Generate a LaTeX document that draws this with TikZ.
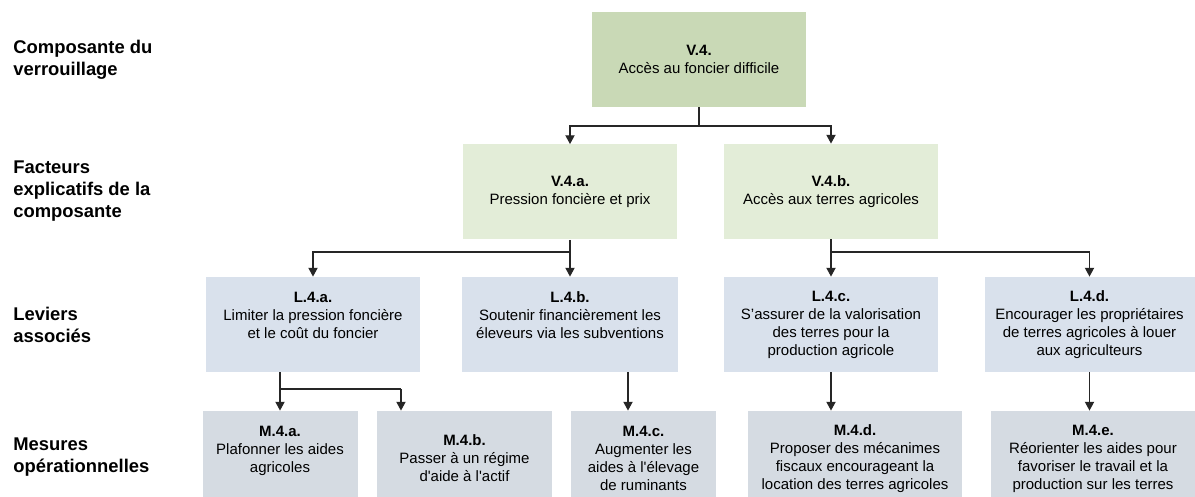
\documentclass[tikz,border=0pt]{standalone}
\usepackage{fontspec}
\setmainfont{Liberation Sans}
\usetikzlibrary{arrows.meta}

\definecolor{vcol}{HTML}{C9D9B6}
\definecolor{fcol}{HTML}{E3EDD8}
\definecolor{lcol}{HTML}{D9E1EC}
\definecolor{mcol}{HTML}{D5DBE2}

\tikzset{
  box/.style={minimum height=47.5pt, inner sep=2pt, align=center,
    font=\fontsize{7.5pt}{9pt}\selectfont},
  vbox/.style={box, fill=vcol, minimum width=107pt},
  fbox/.style={box, fill=fcol, minimum width=107pt},
  lbox/.style={box, fill=lcol, minimum width=107pt},
  mbox/.style={box, fill=mcol},
  rowlab/.style={anchor=west, align=left, inner sep=0pt,
    font=\fontsize{9.2pt}{11pt}\selectfont\bfseries},
  ln/.style={line width=0.6pt, draw=black!85},
  arr/.style={ln, -{Triangle[width=4.6pt,length=4.4pt]}}
}

\begin{document}
\begin{tikzpicture}[x=0.5pt, y=-0.5pt]
  \path[use as bounding box] (0,0) rectangle (1195,497);
  \clip (0,0) rectangle (1195,497);

  % row labels
  \node[rowlab] (lab1) at (13,59.5) {Composante du\\verrouillage};
  \node[rowlab] (lab2) at (13,191) {Facteurs\\explicatifs de la\\composante};
  \node[rowlab] (lab3) at (13,325) {Leviers\\associés};
  \node[rowlab] (lab4) at (13,457) {Mesures\\opérationnelles};

  % verrouillage and facteurs
  \node[vbox] (v4) at (699,59.5) {\textbf{V.4.}\\Accès au foncier difficile};
  \node[fbox] (v4a) at (570,192) {\textbf{V.4.a.}\\Pression foncière et prix};
  \node[fbox] (v4b) at (831,191.5) {\textbf{V.4.b.}\\Accès aux terres agricoles};

  % leviers
  \node[lbox] (l4a) at (313,324.5) {\textbf{L.4.a.}\\Limiter la pression foncière\\et le coût du foncier\\~};
  \node[lbox, minimum width=108pt] (l4b) at (570,324.5) {\textbf{L.4.b.}\\Soutenir financièrement les\\éleveurs via les subventions\\~};
  \node[lbox] (l4c) at (831,324.5) {\textbf{L.4.c.}\\S’assurer de la valorisation\\des terres pour la\\production agricole};
  \node[lbox, minimum width=105pt] (l4d) at (1089.5,324.5) {\textbf{L.4.d.}\\Encourager les propriétaires\\de terres agricoles à louer\\aux agriculteurs};

  % mesures
  \node[mbox, minimum width=77.5pt] (m4a) at (280,458.5) {\textbf{M.4.a.}\\Plafonner les aides\\agricoles\\~};
  \node[mbox, minimum width=87.5pt] (m4b) at (464.5,458.5) {\textbf{M.4.b.}\\Passer à un régime\\d\textquotesingle aide à l\textquotesingle actif};
  \node[mbox, minimum width=72.5pt] (m4c) at (643.5,458.5) {\textbf{M.4.c.}\\Augmenter les\\aides à l\textquotesingle élevage\\de ruminants};
  \node[mbox, minimum width=107pt] (m4d) at (855,458.5) {\textbf{M.4.d.}\\Proposer des mécanimes\\fiscaux encourageant la\\location des terres agricoles};
  \node[mbox, minimum width=102pt] (m4e) at (1093,458.5) {\textbf{M.4.e.}\\Réorienter les aides pour\\favoriser le travail et la\\production sur les terres};

  % junctions
  \coordinate (j1) at (699,126);
  \coordinate (j2) at (570,252);
  \coordinate (j3) at (831,252);
  \coordinate (j4) at (280,389);
  \coordinate (j5) at (401,389);
  \coordinate (j6) at (628,389);

  \draw[ln] (v4.south) -- (j1);
  \draw[arr] (j1) -| (v4a.north);
  \draw[arr] (j1) -| (v4b.north);

  \draw[arr] (v4a.south) -- (l4b.north);
  \draw[arr] (j2) -| (l4a.north);
  \draw[arr] (v4b.south) -- (l4c.north);
  \draw[arr] (j3) -| (l4d.north);

  \draw[ln] (l4a.south -| j4) -- (j4) -- (j5);
  \draw[arr] (j4) -- (m4a.north);
  \draw[arr] (j5) -- (m4b.north -| j5);
  \draw[arr] (l4b.south -| j6) -- (m4c.north -| j6);
  \draw[arr] (l4c.south) -- (l4c.south |- m4d.north);
  \draw[arr] (l4d.south) -- (l4d.south |- m4e.north);
\end{tikzpicture}
\end{document}
